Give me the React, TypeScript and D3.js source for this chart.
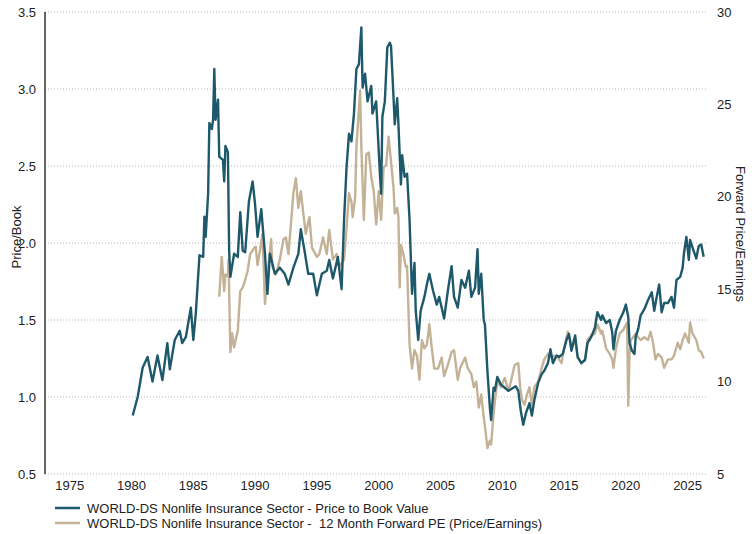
import React from 'react';
import * as d3 from 'd3';

// Price to book (left axis), [year, value]
const priceToBook: [number, number][] = [
  [1980.1, 0.88], [1980.5, 1.0], [1980.9, 1.19], [1981.3, 1.26], [1981.7, 1.1], [1982.1, 1.27],
  [1982.5, 1.11], [1982.9, 1.35], [1983.1, 1.18], [1983.5, 1.37], [1983.9, 1.43], [1984.1, 1.35],
  [1984.4, 1.39], [1984.8, 1.58], [1985.0, 1.37], [1985.2, 1.54], [1985.5, 1.92], [1985.8, 1.91],
  [1985.9, 2.17], [1986.0, 2.04], [1986.2, 2.32], [1986.3, 2.78], [1986.5, 2.74], [1986.6, 2.8],
  [1986.7, 3.13], [1986.8, 2.8], [1987.0, 2.93], [1987.1, 2.56], [1987.4, 2.54], [1987.5, 2.4],
  [1987.6, 2.63], [1987.8, 2.59], [1987.9, 1.95], [1988.0, 1.78], [1988.3, 1.93], [1988.6, 1.91],
  [1988.8, 2.2], [1989.0, 1.95], [1989.2, 1.94], [1989.5, 2.27], [1989.8, 2.4], [1990.0, 2.25],
  [1990.2, 2.04], [1990.5, 2.22], [1990.8, 1.93], [1991.0, 1.67], [1991.2, 1.93], [1991.6, 1.8],
  [1992.0, 1.84], [1992.4, 1.8], [1992.7, 1.73], [1993.1, 1.84], [1993.5, 1.93], [1993.7, 2.09],
  [1994.0, 1.95], [1994.3, 1.8], [1994.7, 1.8], [1995.0, 1.66], [1995.4, 1.8], [1995.8, 1.82],
  [1996.0, 1.89], [1996.3, 1.77], [1996.7, 1.91], [1997.0, 1.7], [1997.2, 2.15], [1997.4, 2.49],
  [1997.6, 2.71], [1997.8, 2.66], [1998.0, 2.84], [1998.2, 3.13], [1998.4, 3.16], [1998.6, 3.4],
  [1998.7, 3.01], [1998.9, 3.1], [1999.1, 2.92], [1999.4, 3.02], [1999.5, 2.84], [1999.8, 2.92],
  [2000.1, 2.45], [2000.2, 2.32], [2000.3, 2.82], [2000.5, 2.92], [2000.7, 3.27], [2000.9, 3.3],
  [2001.0, 3.28], [2001.2, 2.95], [2001.3, 2.77], [2001.5, 2.94], [2001.6, 2.77], [2001.8, 2.38],
  [2001.9, 2.57], [2002.1, 2.43], [2002.3, 2.45], [2002.5, 2.15], [2002.7, 1.67], [2002.9, 1.87],
  [2003.0, 1.56], [2003.2, 1.37], [2003.4, 1.56], [2003.7, 1.65], [2003.9, 1.73], [2004.1, 1.8],
  [2004.4, 1.69], [2004.7, 1.6], [2004.9, 1.65], [2005.3, 1.51], [2005.6, 1.69], [2005.9, 1.85],
  [2006.1, 1.65], [2006.4, 1.58], [2006.7, 1.76], [2007.0, 1.71], [2007.3, 1.82], [2007.5, 1.65],
  [2007.8, 1.71], [2008.0, 1.96], [2008.1, 1.67], [2008.3, 1.8], [2008.5, 1.5], [2008.6, 1.47],
  [2008.8, 1.17], [2009.0, 0.93], [2009.1, 0.85], [2009.3, 1.06], [2009.4, 1.04], [2009.6, 1.13],
  [2009.9, 1.08], [2010.2, 1.06], [2010.5, 1.04], [2010.9, 1.06], [2011.1, 1.07], [2011.3, 1.04],
  [2011.5, 0.91], [2011.7, 0.82], [2011.9, 0.89], [2012.2, 0.96], [2012.4, 0.88], [2012.6, 0.98],
  [2012.9, 1.09], [2013.2, 1.15], [2013.4, 1.17], [2013.7, 1.22], [2013.9, 1.31], [2014.1, 1.22],
  [2014.4, 1.27], [2014.6, 1.26], [2014.9, 1.28], [2015.2, 1.37], [2015.4, 1.41], [2015.6, 1.3],
  [2015.9, 1.4], [2016.1, 1.26], [2016.4, 1.22], [2016.7, 1.24], [2016.9, 1.35], [2017.2, 1.39],
  [2017.5, 1.45], [2017.7, 1.55], [2018.0, 1.5], [2018.1, 1.53], [2018.4, 1.48], [2018.7, 1.5],
  [2018.9, 1.42], [2019.0, 1.31], [2019.2, 1.43], [2019.5, 1.5], [2019.8, 1.55], [2020.0, 1.6],
  [2020.2, 1.52], [2020.3, 1.35], [2020.5, 1.3], [2020.7, 1.28], [2020.8, 1.39], [2021.0, 1.44],
  [2021.2, 1.53], [2021.5, 1.57], [2021.8, 1.63], [2022.1, 1.68], [2022.3, 1.56], [2022.5, 1.65],
  [2022.7, 1.73], [2022.9, 1.55], [2023.1, 1.61], [2023.4, 1.61], [2023.7, 1.65], [2023.9, 1.58],
  [2024.1, 1.76], [2024.4, 1.78], [2024.6, 1.84], [2024.7, 1.93], [2024.9, 2.04], [2025.1, 1.89],
  [2025.2, 2.02], [2025.4, 1.97], [2025.7, 1.9], [2025.9, 1.98], [2026.1, 1.99], [2026.3, 1.91],
];

// 12 month forward PE (right axis), [year, value]
const forwardPE: [number, number][] = [
  [1987.1, 14.6], [1987.3, 16.75], [1987.5, 14.9], [1987.6, 15.8], [1987.8, 15.7], [1987.85, 16.6],
  [1988.0, 11.6], [1988.15, 12.6], [1988.3, 11.85], [1988.6, 12.75], [1988.8, 14.9], [1989.0, 15.1],
  [1989.2, 15.5], [1989.4, 16.0], [1989.6, 16.9], [1989.9, 17.2], [1990.05, 17.3], [1990.2, 16.3],
  [1990.4, 17.1], [1990.6, 18.0], [1990.8, 14.2], [1991.0, 15.8], [1991.3, 17.7], [1991.4, 16.2],
  [1991.7, 15.8], [1992.0, 16.6], [1992.3, 17.7], [1992.5, 17.8], [1992.7, 16.9], [1992.9, 18.5],
  [1993.1, 20.2], [1993.3, 21.0], [1993.5, 19.4], [1993.7, 20.3], [1993.9, 19.1], [1994.1, 18.0],
  [1994.4, 18.9], [1994.6, 17.25], [1995.0, 16.75], [1995.2, 16.9], [1995.5, 17.8], [1995.8, 16.9],
  [1996.0, 18.2], [1996.3, 16.6], [1996.6, 16.9], [1996.8, 16.2], [1997.2, 16.6], [1997.4, 18.3],
  [1997.6, 20.2], [1997.8, 19.7], [1997.9, 18.9], [1998.1, 20.0], [1998.2, 22.7], [1998.4, 24.7],
  [1998.5, 25.75], [1998.6, 22.7], [1998.8, 18.75], [1999.0, 22.3], [1999.2, 22.4], [1999.4, 21.1],
  [1999.6, 20.3], [1999.8, 18.5], [2000.0, 20.3], [2000.2, 18.75], [2000.4, 21.6], [2000.6, 21.7],
  [2000.8, 23.25], [2001.0, 21.9], [2001.2, 20.5], [2001.3, 19.1], [2001.5, 19.4], [2001.6, 18.9],
  [2001.7, 15.1], [2001.8, 17.4], [2002.0, 16.9], [2002.2, 16.2], [2002.3, 16.25], [2002.5, 12.0],
  [2002.7, 10.7], [2002.9, 11.7], [2003.1, 11.4], [2003.3, 10.1], [2003.5, 12.25], [2003.7, 11.8],
  [2003.9, 12.0], [2004.1, 13.1], [2004.3, 11.8], [2004.5, 10.7], [2004.8, 10.7], [2005.1, 11.3],
  [2005.3, 10.3], [2005.6, 10.9], [2005.9, 11.6], [2006.1, 11.7], [2006.4, 10.1], [2006.6, 10.75],
  [2007.0, 11.3], [2007.2, 10.75], [2007.5, 10.4], [2007.7, 9.7], [2007.9, 10.0], [2008.1, 8.6],
  [2008.3, 9.3], [2008.5, 8.1], [2008.6, 7.6], [2008.8, 6.4], [2009.0, 6.8], [2009.1, 6.6],
  [2009.3, 8.25], [2009.4, 8.9], [2009.6, 10.0], [2009.9, 9.7], [2010.2, 10.2], [2010.5, 9.5],
  [2010.7, 10.0], [2011.0, 10.9], [2011.3, 11.0], [2011.45, 9.7], [2011.6, 9.0], [2011.8, 8.75],
  [2012.0, 9.3], [2012.2, 9.7], [2012.4, 8.7], [2012.6, 9.7], [2012.9, 10.0], [2013.2, 10.75],
  [2013.4, 11.2], [2013.7, 11.5], [2014.0, 11.3], [2014.2, 11.4], [2014.5, 11.3], [2014.8, 11.0],
  [2015.0, 11.8], [2015.3, 12.7], [2015.5, 12.25], [2015.6, 11.8], [2015.9, 12.25], [2016.1, 11.3],
  [2016.4, 11.0], [2016.7, 11.2], [2016.9, 12.25], [2017.2, 12.5], [2017.5, 12.6], [2017.7, 13.1],
  [2018.0, 12.6], [2018.1, 12.75], [2018.4, 11.8], [2018.7, 11.5], [2018.9, 11.2], [2019.0, 10.75],
  [2019.2, 11.8], [2019.5, 12.6], [2019.8, 12.8], [2020.1, 13.2], [2020.2, 8.7], [2020.3, 11.5],
  [2020.4, 12.25], [2020.6, 12.4], [2020.8, 12.6], [2021.0, 12.4], [2021.2, 12.25], [2021.5, 12.4],
  [2021.8, 12.25], [2022.0, 12.7], [2022.2, 12.1], [2022.4, 11.2], [2022.6, 11.5], [2022.9, 11.3],
  [2023.1, 10.75], [2023.4, 11.2], [2023.7, 11.2], [2023.9, 11.4], [2024.2, 12.1], [2024.4, 11.75],
  [2024.6, 12.25], [2024.8, 12.6], [2025.1, 12.1], [2025.2, 13.2], [2025.4, 12.6], [2025.7, 12.25],
  [2025.9, 11.7], [2026.1, 11.6], [2026.3, 11.25],
];

const yearTicks = [1975, 1980, 1985, 1990, 1995, 2000, 2005, 2010, 2015, 2020, 2025];
const leftTicks = [0.5, 1.0, 1.5, 2.0, 2.5, 3.0, 3.5];
const rightTicks = [5, 10, 15, 20, 25, 30];

const legendLabels = [
  'WORLD-DS Nonlife Insurance Sector - Price to Book Value',
  'WORLD-DS Nonlife Insurance Sector -  12 Month Forward PE (Price/Earnings)',
];

const BLUE = '#1e596b';
const TAN = '#c4b297';
const FONT = '"Liberation Sans", Arial, sans-serif';

export default function App(): JSX.Element {
  const width = 752;
  const height = 534;
  const plot = { left: 45, right: 708, top: 12, bottom: 474 };

  const x = d3.scaleLinear().domain([1973.0, 2026.65]).range([plot.left, plot.right]);
  const yL = d3.scaleLinear().domain([0.5, 3.5]).range([plot.bottom, plot.top]);
  const yR = d3.scaleLinear().domain([5, 30]).range([plot.bottom, plot.top]);

  const lineL = d3
    .line<[number, number]>()
    .x((d) => x(d[0]))
    .y((d) => yL(d[1]));
  const lineR = d3
    .line<[number, number]>()
    .x((d) => x(d[0]))
    .y((d) => yR(d[1]));

  return (
    <div style={{ position: 'absolute', left: 0, top: 0 }}>
      <svg width={width} height={height} style={{ display: 'block', background: '#fff' }} fontFamily={FONT}>
        {/* grid */}
        {leftTicks.map((t) => (
          <line
            key={'g' + t}
            x1={plot.left}
            x2={plot.right}
            y1={yL(t)}
            y2={yL(t)}
            stroke="#b5b5b5"
            strokeWidth={1}
            strokeDasharray="1,2"
          />
        ))}
        {/* left axis */}
        <line x1={plot.left} x2={plot.left} y1={plot.top} y2={plot.bottom} stroke="#000" strokeWidth={1.2} />
        {leftTicks.map((t) => (
          <text key={'l' + t} x={36} y={yL(t)} dy="0.35em" textAnchor="end" fontSize={13} fill="#222">
            {t.toFixed(1)}
          </text>
        ))}
        {rightTicks.map((t) => (
          <text key={'r' + t} x={717} y={yR(t)} dy="0.35em" textAnchor="start" fontSize={13} fill="#222">
            {t}
          </text>
        ))}
        {yearTicks.map((t) => (
          <text key={'x' + t} x={x(t)} y={490} textAnchor="middle" fontSize={13} fill="#222">
            {t}
          </text>
        ))}
        <text transform={`translate(21, 237) rotate(-90)`} textAnchor="middle" fontSize={13} fill="#222">
          Price/Book
        </text>
        <text transform={`translate(736, 234) rotate(90)`} textAnchor="middle" fontSize={13} fill="#222">
          Forward Price/Earnings
        </text>

        {/* series */}
        <path d={lineR(forwardPE) || ''} fill="none" stroke={TAN} strokeWidth={2.4} strokeLinejoin="round" />
        <path d={lineL(priceToBook) || ''} fill="none" stroke={BLUE} strokeWidth={2.4} strokeLinejoin="round" />

        {/* legend */}
        {legendLabels.map((label, i) => (
          <g key={label} transform={`translate(55, ${508 + i * 15})`}>
            <line x1={0} x2={25} y1={0} y2={0} stroke={i === 0 ? BLUE : TAN} strokeWidth={2.5} />
            <text x={32} y={0} dy="0.35em" fontSize={13} fill="#222" style={{ whiteSpace: 'pre' }}>
              {label}
            </text>
          </g>
        ))}
      </svg>
    </div>
  );
}
